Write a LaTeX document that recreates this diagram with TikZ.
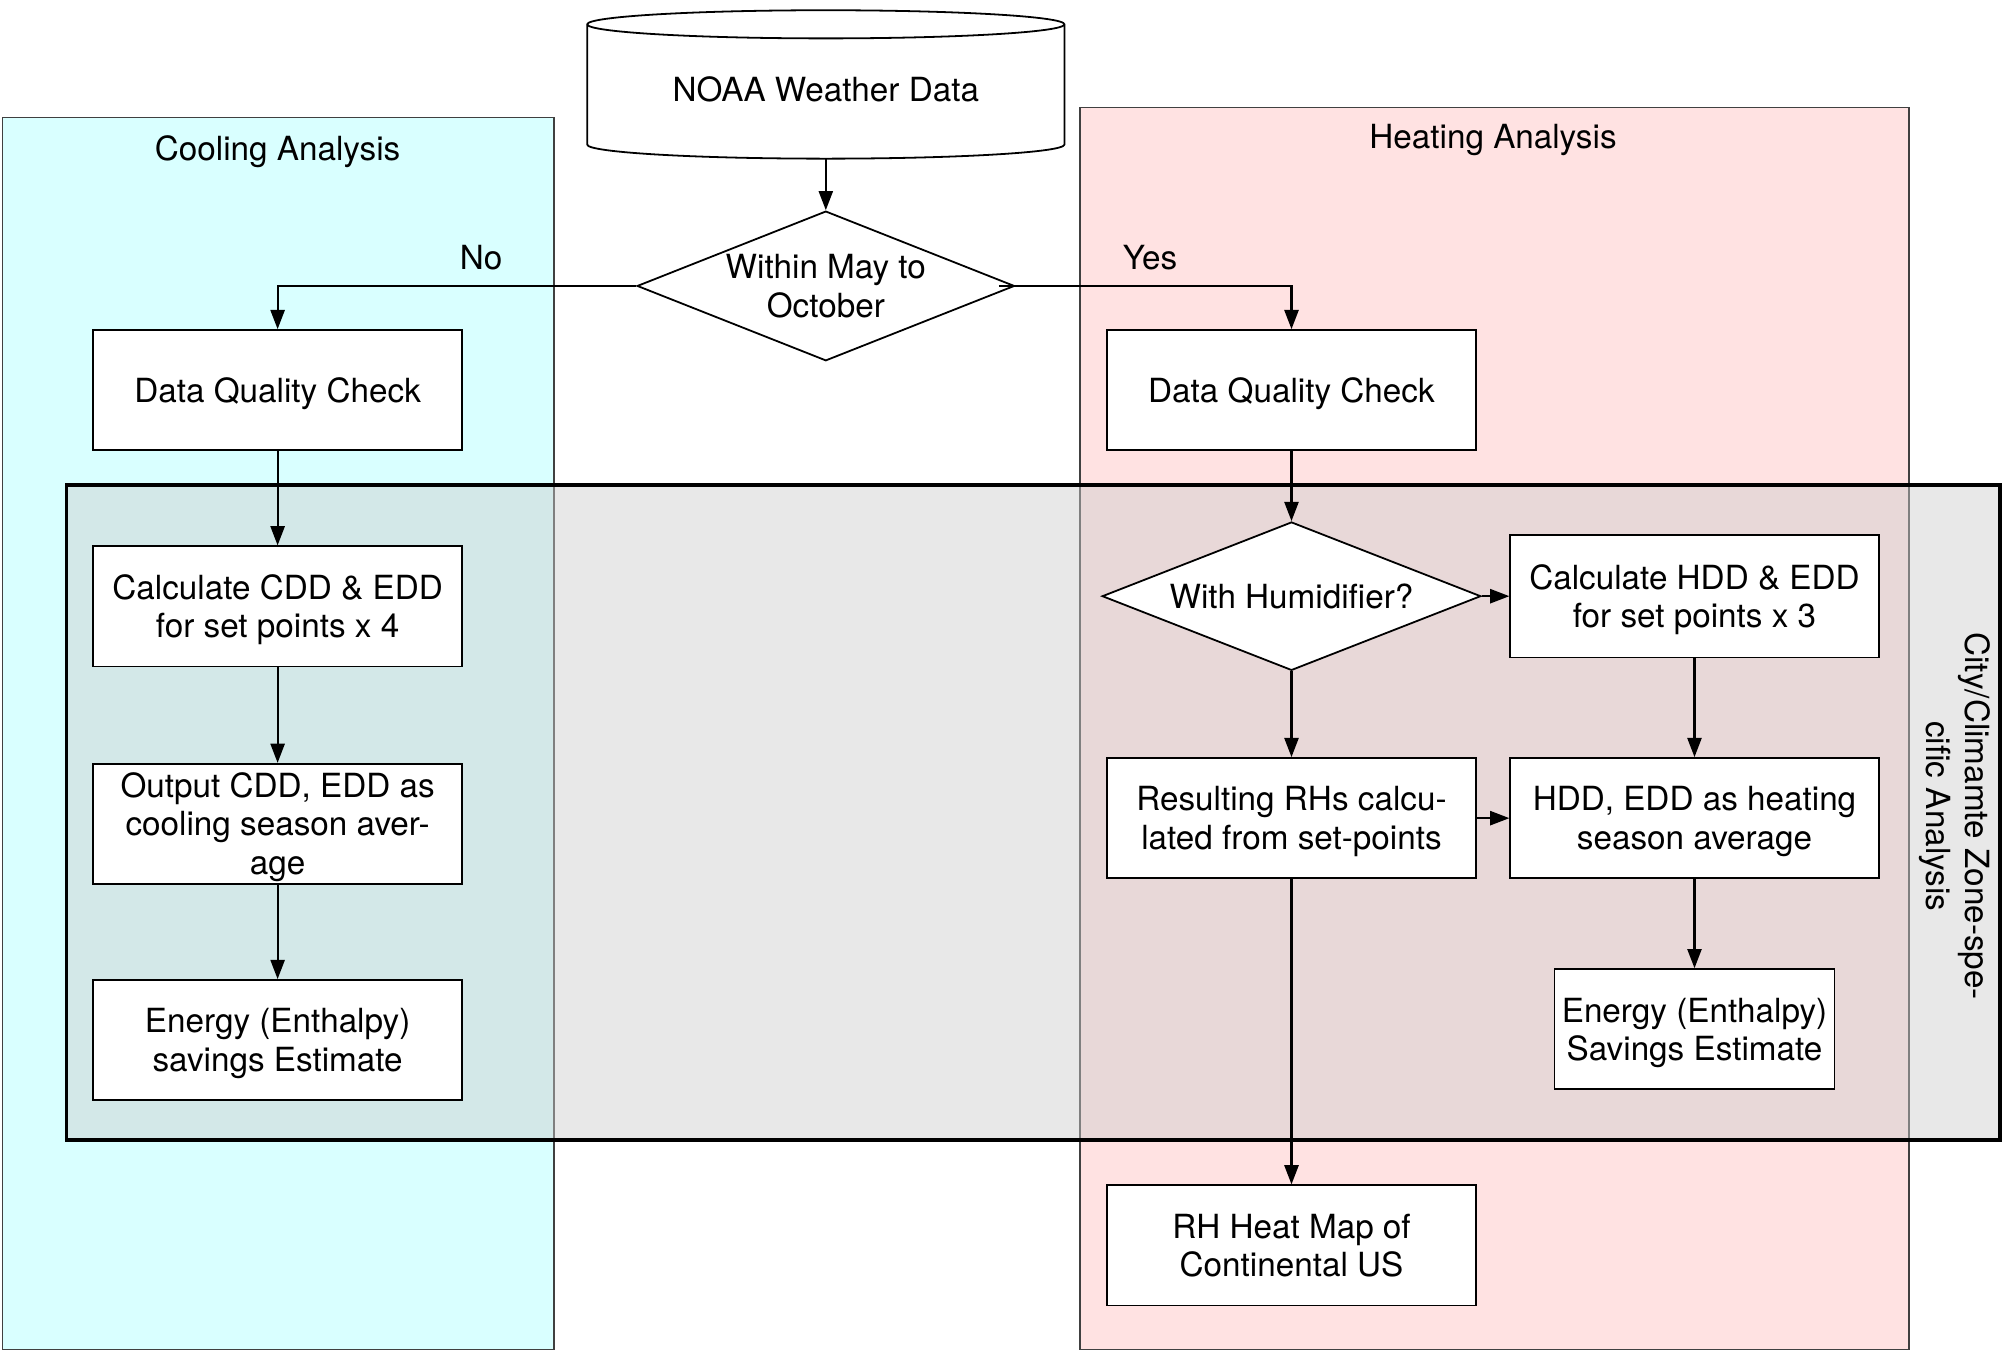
\documentclass[tikz,border=0pt]{standalone}
\usepackage{fontspec}
\setmainfont{TeX Gyre Heros}
\usetikzlibrary{shapes.geometric,arrows.meta}
\definecolor{coolfill}{RGB}{217,255,255}
\definecolor{heatfill}{RGB}{255,226,226}
\definecolor{cityfill}{RGB}{204,204,204}
\begin{document}
\begin{tikzpicture}[x=0.5pt,y=-0.5pt,
  every node/.style={font=\fontsize{13}{15}\selectfont},
  lone/.style={text height=9.4pt, text depth=0pt},
  ltwo/.style={text height=24.4pt, text depth=0pt},
  lthree/.style={text height=39.4pt, text depth=0pt},
  box/.style={draw=black, fill=white, line width=0.7pt, minimum width=144pt, minimum height=47pt, inner sep=0pt, align=center},
  dec/.style={draw=black, fill=white, line width=0.7pt, diamond, aspect=2.5, inner sep=0pt, align=center},
  arr/.style={-{Triangle[length=7.5pt,width=5.5pt]}, line width=0.85pt},
  panel/.style={draw=black!75, line width=0.6pt},
  cyl/.style={draw=black, line width=0.7pt}]
\useasboundingbox (0,0) rectangle (1568,1057);
\fill[white] (0,0) rectangle (1568,1057);
% panels
\draw[panel, fill=coolfill] (2,92) rectangle (433,1055);
\draw[panel, fill=heatfill] (844,84) rectangle (1492,1055);
\node[lone] (cooltitle) at (217,116) {Cooling Analysis};
\node[lone] (heattitle) at (1167,107) {Heating Analysis};
\draw[line width=1.5pt, fill=cityfill, fill opacity=0.45] (52,379) rectangle (1563,891);
\node[rotate=-90, align=center] (citytitle) at (1528,638) {City/Climamte Zone-spe-\\cific Analysis};
% cylinder
\draw[cyl, fill=white] (459,19) -- (459,113) arc[start angle=180, end angle=360, x radius=93.25pt, y radius=5.5pt]
  -- (832,19) arc[start angle=0, end angle=180, x radius=93.25pt, y radius=5.5pt] -- cycle;
\draw[cyl] (459,19) arc[start angle=180, end angle=360, x radius=93.25pt, y radius=5.5pt];
\node[lone, minimum width=186.5pt, minimum height=54pt, inner sep=0pt] (noaa) at (645.5,70) {NOAA Weather Data};
% decisions
\node[dec, ltwo, minimum width=147.5pt, minimum height=58.5pt] (d1) at (645.5,223.5) {Within May to\\October};
\node[dec, lone, minimum width=148pt, minimum height=58pt] (d2) at (1009.5,466) {With Humidifier?};
% boxes
\node[box, lone] (dqc1) at (217,305) {Data Quality Check};
\node[box, ltwo] (cdd) at (217,474) {Calculate CDD \& EDD\\for set points x 4};
\node[box, lthree] (outc) at (217,644) {Output CDD, EDD as\\cooling season aver-\\age};
\node[box, ltwo] (en1) at (217,813) {Energy (Enthalpy)\\savings Estimate};
\node[box, lone] (dqc2) at (1009.5,305) {Data Quality Check};
\node[box, ltwo, minimum height=48pt] (hdd) at (1324.5,466) {Calculate HDD \& EDD\\for set points x 3};
\node[box, ltwo] (rhs) at (1009.5,639.5) {Resulting RHs calcu-\\lated from set-points};
\node[box, ltwo] (hddavg) at (1324.5,639.5) {HDD, EDD as heating\\season average};
\node[box, ltwo, minimum width=109.5pt] (en2) at (1324.5,804.5) {Energy (Enthalpy)\\Savings Estimate};
\node[box, ltwo] (rhmap) at (1009.5,973.5) {RH Heat Map of\\Continental US};
% labels
\node[lone] (no) at (376,201) {No};
\node[lone] (yes) at (899,201) {Yes};
% connectors
\draw[arr] (noaa.south) -- (d1.north);
\draw[arr] (d1.west) -| (dqc1.north);
\draw[arr] ([xshift=-6.5pt]d1.east) -| (dqc2.north);
\draw[arr] (dqc1) -- (cdd);
\draw[arr] (cdd) -- (outc);
\draw[arr] (outc) -- (en1);
\draw[arr] (dqc2.south) -- (d2.north);
\draw[arr] (d2.east) -- (hdd.west);
\draw[arr] (d2.south) -- (rhs.north);
\draw[arr] (hdd) -- (hddavg);
\draw[arr] (rhs) -- (hddavg);
\draw[arr] (hddavg) -- (en2);
\draw[arr] (rhs) -- (rhmap);
\end{tikzpicture}
\end{document}
